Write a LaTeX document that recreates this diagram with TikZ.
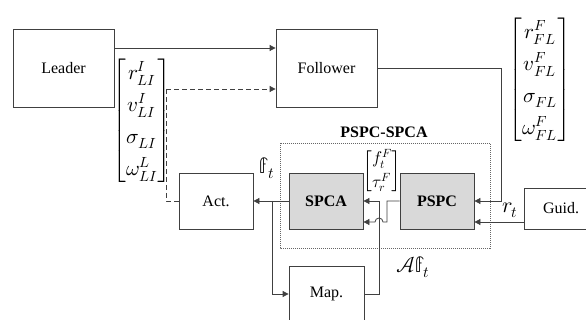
\documentclass[tikz,border=0pt]{standalone}
\usepackage{fontspec}
\usepackage{amsmath}
\usepackage{unicode-math}
\setmainfont{Liberation Serif}
\usetikzlibrary{arrows.meta,calc}

\begin{document}
\begin{tikzpicture}[x=1pt,y=-1pt,
  line/.style={draw=black!75, line width=0.8pt},
  arr/.style={line, -{Triangle[length=6pt,width=6pt]}},
  box/.style={line, rectangle, inner sep=0pt, font=\fontsize{16}{19}\selectfont},
  ctrl/.style={box, fill=black!15, minimum width=74pt, minimum height=56pt, font=\fontsize{16}{19}\selectfont\bfseries},
  vec/.style={inner sep=0pt, font=\fontsize{21}{25}\selectfont},
  lbl/.style={inner sep=0pt, font=\fontsize{22}{26}\selectfont},
]
\useasboundingbox (0,0) rectangle (586,320);
\fill[white] (0,0) rectangle (586,320);
\clip (0,0) rectangle (586,320);

% vehicles and blocks
\node[box, minimum width=101pt, minimum height=78pt] (leader) at (63.5,68) {Leader};
\node[box, minimum width=101pt, minimum height=78pt] (follower) at (326.5,68) {Follower};
\node[box, minimum width=74pt, minimum height=56pt] (act) at (216,201) {Act.};
\node[ctrl] (spca) at (326,201) {SPCA};
\node[ctrl] (pspc) at (437,201) {PSPC};
\node[box, minimum width=75pt, minimum height=56pt] (map) at (326.5,294) {Map.};
\node[box, minimum width=74pt, minimum height=41pt] (guid) at (561,208.5) {Guid.};

% controller group
\draw[black!60, line width=0.7pt, dash pattern=on 1pt off 1pt] (280,143) rectangle (490,248);
\node[font=\fontsize{16}{19}\selectfont\bfseries, inner sep=0pt] (grp) at (384,132) {PSPC-SPCA};

% state vectors
\node[vec] (lvec) at (142,121) {\renewcommand\arraystretch{1.28}\setlength\arraycolsep{2pt}$\begin{bmatrix} r^{I}_{LI}\\ v^{I}_{LI}\\ \sigma_{LI}\\ \omega^{L}_{LI}\end{bmatrix}$};
\node[vec] (rvec) at (540,80) {\renewcommand\arraystretch{1.28}\setlength\arraycolsep{2pt}$\begin{bmatrix} r^{F}_{FL}\\ v^{F}_{FL}\\ \sigma_{FL}\\ \omega^{F}_{FL}\end{bmatrix}$};
\node[vec, font=\fontsize{17}{20}\selectfont] (fvec) at (382,171) {\renewcommand\arraystretch{0.85}\setlength\arraycolsep{1pt}$\begin{bmatrix} f^{F}_{t}\\[4pt] \tau^{F}_{r}\end{bmatrix}$};

% signal labels
\node[lbl] (ft) at (267,168) {$\mathbb{f}_t$};
\node[lbl] (aft) at (413,267) {$\mathcal{A}\mathbb{f}_t$};
\node[lbl] (rt) at (510,210) {$r_t$};

% helper points
\coordinate (dc) at (166,89);
\coordinate (br) at (272,201);
\coordinate (fb) at (379,201);
\coordinate (pc) at (387,201);
\coordinate (fo) at (501,68);

% connectors
\draw[arr] (leader.east |- 0,48) -- (follower.west |- 0,48);
\draw[arr, dash pattern=on 5pt off 3pt] (dc) -- (follower.west |- dc);
\draw[line, dash pattern=on 5pt off 3pt] (dc) |- (act.west);
\draw[arr] (spca.west) -- (act.east);
\draw[arr] (br) |- (map.west);
\draw[arr] (map.east) -| (fb) -- (spca.east);
\draw[arr] (pspc.west) -- (pc) -- (387,222) -- (383,222) arc[start angle=0, end angle=180, radius=4pt] -- (spca.east |- 0,222);
\draw[arr] (follower.east) -- (fo) |- (pspc.east);
\draw[arr] (guid.west |- 0,222) -- (pspc.east |- 0,222);
\end{tikzpicture}
\end{document}
